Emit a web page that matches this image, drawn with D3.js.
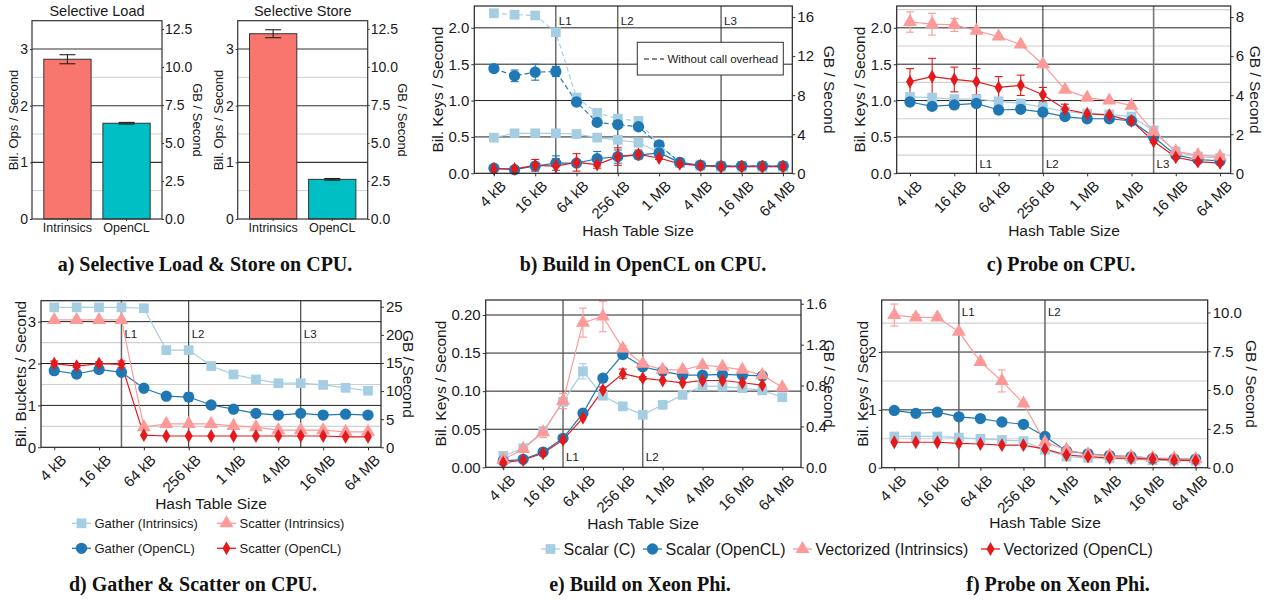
<!DOCTYPE html>
<meta charset="utf-8">
<title>SIMD hash table benchmarks</title>
<style>
body { margin: 0; background: #fff; }
svg { display: block; font-family: "Liberation Sans", Arial, sans-serif; }
.cap { font-family: "Liberation Serif", "Times New Roman", serif; font-weight: bold; font-size: 20px; }
</style>
<svg width="1268" height="601"></svg>
<script src="https://cdn.jsdelivr.net/npm/d3@7"></script>
<script>
'use strict';

// ---- data ----
const sizes = ["4 kB","8 kB","16 kB","32 kB","64 kB","128 kB","256 kB","512 kB",
               "1 MB","2 MB","4 MB","8 MB","16 MB","32 MB","64 MB"];
const sizeTickLabels = ["4 kB","16 kB","64 kB","256 kB","1 MB","4 MB","16 MB","64 MB"];

// a) selective load / store
const selCats = ["Intrinsics", "OpenCL"];
const selLoad = [2.82, 1.69];
const selLoadErr = [0.08, 0.015];
const selStore = [3.27, 0.70];
const selStoreErr = [0.07, 0.015];

// b) build in OpenCL on CPU
const bSquaresNoOvh = [2.20, 2.18, 2.17, 1.94, 1.04, 0.83, 0.75, 0.72, 0.39, 0.14, 0.11, 0.10, 0.10, 0.10, 0.10];
const bCirclesNoOvh = [1.44, 1.34, 1.39, 1.40, 0.98, 0.70, 0.67, 0.64, 0.39, 0.15, 0.11, 0.10, 0.10, 0.10, 0.10];
const bCirclesNoOvhErr = [0.01, 0.08, 0.11, 0.07, 0.02, 0.02, 0.02, 0.02, 0.02, 0, 0, 0, 0, 0, 0];
const bSquares = [0.49, 0.55, 0.55, 0.55, 0.54, 0.49, 0.46, 0.42, 0.29, 0.14, 0.105, 0.09, 0.09, 0.09, 0.09];
const bCircles = [0.07, 0.05, 0.10, 0.14, 0.14, 0.20, 0.23, 0.25, 0.28, 0.15, 0.11, 0.10, 0.10, 0.10, 0.10];
const bCirclesErr = [0.02, 0.03, 0.05, 0.10, 0.03, 0.10, 0.09, 0.05, 0.02, 0, 0, 0, 0, 0, 0];
const bDiamonds = [0.06, 0.06, 0.11, 0.10, 0.15, 0.12, 0.23, 0.26, 0.21, 0.13, 0.105, 0.09, 0.09, 0.09, 0.09];
const bDiamondsErr = [0.02, 0.03, 0.08, 0.10, 0.12, 0.05, 0.12, 0.06, 0.02, 0, 0, 0, 0, 0, 0];

// c) probe on CPU
const cSquares = [1.05, 1.04, 1.02, 1.02, 0.99, 0.96, 0.91, 0.85, 0.82, 0.81, 0.78, 0.59, 0.30, 0.23, 0.21];
const cCircles = [0.98, 0.92, 0.94, 0.96, 0.87, 0.88, 0.84, 0.78, 0.75, 0.75, 0.72, 0.50, 0.25, 0.19, 0.17];
const cCirclesErr = [0.05, 0.03, 0.04, 0.03, 0.05, 0.04, 0.03, 0.02, 0.02, 0.02, 0.02, 0.01, 0.01, 0.01, 0.01];
const cTriangles = [2.08, 2.05, 2.04, 1.96, 1.88, 1.77, 1.50, 1.15, 1.04, 1.00, 0.93, 0.57, 0.30, 0.25, 0.23];
const cTrianglesErr = [0.14, 0.15, 0.09, 0.03, 0, 0, 0, 0, 0, 0, 0, 0, 0, 0, 0];
const cDiamonds = [1.26, 1.33, 1.29, 1.26, 1.18, 1.21, 1.08, 0.88, 0.82, 0.80, 0.72, 0.44, 0.22, 0.16, 0.14];
const cDiamondsErr = [0.18, 0.25, 0.17, 0.18, 0.15, 0.14, 0.10, 0.07, 0.04, 0.02, 0.02, 0.02, 0.01, 0.01, 0.01];

// d) gather & scatter on CPU
const dGatherIntr = [3.34, 3.34, 3.34, 3.34, 3.32, 2.32, 2.32, 1.94, 1.74, 1.62, 1.53, 1.53, 1.49, 1.42, 1.35];
const dScatterIntr = [3.04, 3.04, 3.04, 3.04, 0.48, 0.56, 0.56, 0.56, 0.51, 0.48, 0.41, 0.41, 0.41, 0.37, 0.37];
const dGatherOcl = [1.83, 1.75, 1.86, 1.79, 1.41, 1.22, 1.20, 1.01, 0.91, 0.81, 0.77, 0.81, 0.77, 0.79, 0.77];
const dGatherOclErr = [0.08, 0.09, 0.05, 0.05, 0.03, 0.07, 0.10, 0.06, 0.03, 0.02, 0.02, 0.02, 0.02, 0.02, 0.02];
const dScatterOcl = [2.00, 1.94, 2.00, 1.98, 0.29, 0.27, 0.27, 0.27, 0.27, 0.27, 0.27, 0.27, 0.27, 0.25, 0.25];
const dScatterOclErr = [0.06, 0.04, 0.04, 0.08, 0, 0, 0, 0, 0, 0, 0, 0, 0, 0, 0];

// e) build on Xeon Phi (OpenCL series stop at 32 MB)
const eScalarC = [0.015, 0.025, 0.047, 0.086, 0.126, 0.094, 0.080, 0.069, 0.082, 0.095, 0.107, 0.106, 0.104, 0.101, 0.092];
const eScalarCErr = [0, 0, 0.003, 0.005, 0.010, 0.003, 0, 0, 0, 0, 0, 0, 0, 0, 0];
const eScalarOcl = [0.0083, 0.0105, 0.020, 0.038, 0.071, 0.117, 0.148, 0.132, 0.126, 0.121, 0.121, 0.122, 0.121, 0.120];
const eScalarOclErr = [0, 0, 0, 0.002, 0.002, 0.005, 0.004, 0.002, 0, 0, 0, 0, 0, 0];
const eVecIntr = [0.010, 0.024, 0.046, 0.087, 0.190, 0.198, 0.156, 0.136, 0.128, 0.128, 0.134, 0.132, 0.128, 0.121, 0.105];
const eVecIntrErr = [0.003, 0.003, 0.007, 0.010, 0.019, 0.020, 0.004, 0.003, 0, 0, 0, 0, 0, 0, 0];
const eVecOcl = [0.006, 0.0096, 0.0184, 0.036, 0.065, 0.1015, 0.123, 0.117, 0.114, 0.111, 0.114, 0.114, 0.111, 0.108];
const eVecOclErr = [0, 0, 0, 0, 0, 0.004, 0.006, 0.002, 0, 0, 0, 0, 0, 0];

// f) probe on Xeon Phi
const fScalarC = [0.54, 0.54, 0.54, 0.52, 0.50, 0.48, 0.46, 0.31, 0.19, 0.17, 0.16, 0.15, 0.13, 0.12, 0.12];
const fScalarOcl = [0.99, 0.94, 0.96, 0.88, 0.85, 0.79, 0.75, 0.54, 0.29, 0.24, 0.21, 0.19, 0.16, 0.15, 0.15];
const fVecIntr = [2.64, 2.60, 2.60, 2.35, 1.83, 1.50, 1.11, 0.44, 0.31, 0.23, 0.21, 0.19, 0.17, 0.16, 0.15];
const fVecIntrErr = [0.19, 0.05, 0.04, 0.02, 0.02, 0.19, 0.03, 0, 0, 0, 0, 0, 0, 0, 0];
const fVecOcl = [0.44, 0.44, 0.44, 0.42, 0.41, 0.39, 0.39, 0.32, 0.22, 0.19, 0.17, 0.16, 0.15, 0.13, 0.12];

const legendD = ["Gather (Intrinsics)", "Scatter (Intrinsics)", "Gather (OpenCL)", "Scatter (OpenCL)"];
const legendE = ["Scalar (C)", "Scalar (OpenCL)", "Vectorized (Intrinsics)", "Vectorized (OpenCL)"];

// ---- drawing ----
const svg = d3.select("svg");
svg.append("rect").attr("width", 1268).attr("height", 601).attr("fill", "#fff");

const col = {sq: "#a6cee3", ci: "#1f78b4", tr: "#fb9a99", di: "#e31a1c"};
const sym = {sq: d3.symbolSquare, ci: d3.symbolCircle, tr: d3.symbolTriangle, di: d3.symbolDiamond};
const symSize = {sq: 95, ci: 100, tr: 85, di: 55};
const TXT = "#1a1a1a";

function styleAxis(ax, fs) {
  ax.select(".domain").remove();
  ax.selectAll("line").attr("stroke", "#333");
  ax.selectAll("text").attr("fill", TXT).attr("font-size", fs + "px")
    .attr("font-family", "'Liberation Sans', Arial, sans-serif");
}

function vTitle(x, y, text, rot, fs) {
  svg.append("text").attr("transform", `translate(${x},${y}) rotate(${rot})`)
    .attr("text-anchor", "middle").attr("dominant-baseline", "central")
    .attr("font-size", fs + "px").attr("fill", TXT).text(text);
}

function barPanel(p) {
  const g = svg.append("g");
  const x = d3.scaleBand().domain(selCats).range([p.x0, p.x1]).paddingInner(0.2).paddingOuter(0.2);
  const y = d3.scaleLinear().domain([0, 3.5]).range([p.y1, p.y0]);
  const y2 = d3.scaleLinear().domain([0, 3.5 * 3.725]).range([p.y1, p.y0]);
  g.selectAll(null).data([0.5, 1.5, 2.5]).join("line")
    .attr("x1", p.x0).attr("x2", p.x1).attr("y1", d => y(d)).attr("y2", d => y(d))
    .attr("stroke", "#d0d0d0");
  g.selectAll(null).data([1, 2, 3]).join("line")
    .attr("x1", p.x0).attr("x2", p.x1).attr("y1", d => y(d)).attr("y2", d => y(d))
    .attr("stroke", "#333").attr("stroke-width", 1.1);
  g.selectAll(null).data(p.vals).join("rect")
    .attr("x", (d, i) => x(selCats[i])).attr("width", x.bandwidth())
    .attr("y", d => y(d)).attr("height", d => y(0) - y(d))
    .attr("fill", (d, i) => i === 0 ? "#f8766d" : "#00bfc4")
    .attr("stroke", "#333").attr("stroke-width", 1);
  p.vals.forEach((v, i) => {
    const cx = x(selCats[i]) + x.bandwidth() / 2, e = p.err[i];
    const eb = g.append("g").attr("stroke", "#222").attr("stroke-width", 1.1);
    eb.append("line").attr("x1", cx).attr("x2", cx).attr("y1", y(v - e)).attr("y2", y(v + e));
    [v - e, v + e].forEach(t => eb.append("line").attr("x1", cx - 8).attr("x2", cx + 8)
      .attr("y1", y(t)).attr("y2", y(t)));
  });
  g.append("rect").attr("x", p.x0).attr("y", p.y0).attr("width", p.x1 - p.x0)
    .attr("height", p.y1 - p.y0).attr("fill", "none").attr("stroke", "#333").attr("stroke-width", 1.2);
  const axL = g.append("g").attr("transform", `translate(${p.x0},0)`)
    .call(d3.axisLeft(y).tickValues([0, 1, 2, 3]).tickFormat(d3.format("d")).tickSize(2).tickPadding(2));
  styleAxis(axL, 14);
  const axR = g.append("g").attr("transform", `translate(${p.x1},0)`)
    .call(d3.axisRight(y2).tickValues([0, 2.5, 5, 7.5, 10, 12.5]).tickFormat(d3.format(".1f")).tickSize(2).tickPadding(1));
  styleAxis(axR, 14);
  const axB = g.append("g").attr("transform", `translate(0,${p.y1})`)
    .call(d3.axisBottom(x).tickSize(2).tickPadding(2));
  styleAxis(axB, 12.5);
  g.append("text").attr("x", (p.x0 + p.x1) / 2).attr("y", 16).attr("text-anchor", "middle")
    .attr("font-size", "14.5px").attr("fill", TXT).text(p.title);
  vTitle(p.x0 - 19, 120, "Bil. Ops / Second", -90, 13);
  vTitle(p.x1 + 35, 120, "GB / Second", 90, 13);
}

function linePanel(p) {
  const g = svg.append("g");
  const n = sizes.length;
  const x = d3.scaleLinear().domain([-p.pad[0], n - 1 + p.pad[1]]).range([p.x0, p.x1]);
  const y = d3.scaleLinear().domain([0, p.yMax]).range([p.y1, p.y0]);
  const y2 = d3.scaleLinear().domain([0, p.yMax * p.factor]).range([p.y1, p.y0]);

  g.selectAll(null).data(p.minor || []).join("line")
    .attr("x1", p.x0).attr("x2", p.x1).attr("y1", d => y(d)).attr("y2", d => y(d))
    .attr("stroke", "#d0d0d0").attr("stroke-width", 1.1);
  g.selectAll(null).data(p.yTicks.filter(d => d > 0)).join("line")
    .attr("x1", p.x0).attr("x2", p.x1).attr("y1", d => y(d)).attr("y2", d => y(d))
    .attr("stroke", "#222").attr("stroke-width", 1);
  p.caches.forEach(c => {
    g.append("line").attr("x1", x(c.i)).attr("x2", x(c.i)).attr("y1", p.y0).attr("y2", p.y1)
      .attr("stroke", c.c || "#222").attr("stroke-width", c.w || 1);
    g.append("text").attr("x", x(c.i) + 3).attr("y", p.labelY).attr("font-size", "11.5px")
      .attr("fill", TXT).text(c.t);
  });

  const line = d3.line().x(d => x(d[0])).y(d => y(d[1]));
  const pts = s => s.v.map((v, i) => [i, v]);
  p.series.forEach(s => {
    g.append("path").datum(pts(s)).attr("d", line).attr("fill", "none")
      .attr("stroke", col[s.k]).attr("stroke-width", 1.2)
      .attr("stroke-dasharray", s.dash ? "5,3" : null);
  });
  p.series.forEach(s => {
    if (!s.e) return;
    s.v.forEach((v, i) => {
      const e = s.e[i];
      if (!e) return;
      const cx = x(i);
      const eb = g.append("g").attr("stroke", col[s.k]).attr("stroke-width", 1.1);
      eb.append("line").attr("x1", cx).attr("x2", cx).attr("y1", y(v - e)).attr("y2", y(v + e));
      [v - e, v + e].forEach(t => eb.append("line").attr("x1", cx - 4).attr("x2", cx + 4)
        .attr("y1", y(t)).attr("y2", y(t)));
    });
  });
  p.series.forEach(s => {
    g.selectAll(null).data(pts(s)).join("path")
      .attr("transform", d => `translate(${x(d[0])},${y(d[1])})`)
      .attr("d", d3.symbol(sym[s.k], symSize[s.k]))
      .attr("fill", col[s.k]);
  });

  g.append("rect").attr("x", p.x0).attr("y", p.y0).attr("width", p.x1 - p.x0)
    .attr("height", p.y1 - p.y0).attr("fill", "none").attr("stroke", "#222").attr("stroke-width", 1.2);

  const axL = g.append("g").attr("transform", `translate(${p.x0},0)`)
    .call(d3.axisLeft(y).tickValues(p.yTicks).tickFormat(d3.format(p.yFmt)).tickSize(3).tickPadding(2));
  styleAxis(axL, 15);
  const axR = g.append("g").attr("transform", `translate(${p.x1},0)`)
    .call(d3.axisRight(y2).tickValues(p.rTicks).tickFormat(d3.format(p.rFmt)).tickSize(3).tickPadding(2));
  styleAxis(axR, 15);
  const axB = g.append("g").attr("transform", `translate(0,${p.y1})`)
    .call(d3.axisBottom(x).tickValues(sizeTickLabels.map(l => sizes.indexOf(l)))
      .tickFormat(i => sizes[i]).tickSize(3));
  styleAxis(axB, 15);
  axB.selectAll("text").attr("text-anchor", "end").attr("dy", null).attr("y", null)
    .attr("transform", "translate(5,6) rotate(-45)").attr("dy", "0.71em");

  svg.append("text").attr("x", p.xt[0]).attr("y", p.xt[1]).attr("text-anchor", "middle")
    .attr("dominant-baseline", "central").attr("font-size", "15.5px").attr("fill", TXT)
    .text("Hash Table Size");
  vTitle(p.lt, (p.y0 + p.y1) / 2, p.yLabel, -90, 15.5);
  vTitle(p.rt, (p.y0 + p.y1) / 2, "GB / Second", 90, 15.5);
  return {x, y};
}

// a
barPanel({x0: 32, x1: 162, y0: 20.7, y1: 219, vals: selLoad, err: selLoadErr, title: "Selective Load"});
barPanel({x0: 237.7, x1: 367.7, y0: 20.7, y1: 219, vals: selStore, err: selStoreErr, title: "Selective Store"});

// b
linePanel({
  x0: 474.3, x1: 792.3, y0: 6, y1: 173.3, pad: [0.95, 0.45], yMax: 2.3, factor: 7.45,
  yTicks: [0, 0.5, 1, 1.5, 2], yFmt: ".1f", rTicks: [0, 4, 8, 12, 16], rFmt: "d",
  caches: [{i: 3, t: "L1"}, {i: 6, t: "L2"}, {i: 11, t: "L3"}], labelY: 25,
  xt: [638, 230], lt: 437, rt: 829, yLabel: "Bil. Keys / Second",
  series: [
    {k: "sq", v: bSquaresNoOvh, dash: true},
    {k: "ci", v: bCirclesNoOvh, e: bCirclesNoOvhErr, dash: true},
    {k: "sq", v: bSquares},
    {k: "ci", v: bCircles, e: bCirclesErr},
    {k: "di", v: bDiamonds, e: bDiamondsErr}
  ]
});
// legend box in b
const lb = svg.append("g");
lb.append("rect").attr("x", 637.3).attr("y", 42.3).attr("width", 146).attr("height", 32.7)
  .attr("fill", "#fff").attr("stroke", "#333").attr("stroke-width", 1);
lb.append("line").attr("x1", 644).attr("x2", 664).attr("y1", 59).attr("y2", 59)
  .attr("stroke", "#111").attr("stroke-width", 1.2).attr("stroke-dasharray", "5,3");
lb.append("text").attr("x", 667.5).attr("y", 59).attr("dominant-baseline", "central")
  .attr("font-size", "11.5px").attr("fill", TXT).text("Without call overhead");

// c
linePanel({
  x0: 896.7, x1: 1230.7, y0: 6, y1: 173.3, pad: [0.6, 0.48], yMax: 2.3, factor: 3.725,
  yTicks: [0, 0.5, 1, 1.5, 2], yFmt: ".1f", rTicks: [0, 2, 4, 6, 8], rFmt: "d",
  minor: [0.25, 0.75, 1.25, 1.75, 2.25],
  caches: [{i: 3, t: "L1"}, {i: 6, t: "L2"}, {i: 11, t: "L3", c: "#777", w: 1.6}], labelY: 168,
  xt: [1064, 230], lt: 859, rt: 1255, yLabel: "Bil. Keys / Second",
  series: [
    {k: "sq", v: cSquares},
    {k: "ci", v: cCircles, e: cCirclesErr},
    {k: "tr", v: cTriangles, e: cTrianglesErr},
    {k: "di", v: cDiamonds, e: cDiamondsErr}
  ]
});

// d
linePanel({
  x0: 41, x1: 381, y0: 300.7, y1: 447.3, pad: [0.59, 0.58], yMax: 3.5, factor: 7.45,
  yTicks: [0, 1, 2, 3], yFmt: "d", rTicks: [0, 5, 10, 15, 20, 25], rFmt: "d",
  minor: [0.5, 1.5, 2.5],
  caches: [{i: 3, t: "L1", c: "#666", w: 1.5}, {i: 6, t: "L2"}, {i: 11, t: "L3"}], labelY: 338,
  xt: [211, 503], lt: 20, rt: 408, yLabel: "Bil. Buckets / Second",
  series: [
    {k: "sq", v: dGatherIntr},
    {k: "ci", v: dGatherOcl, e: dGatherOclErr},
    {k: "tr", v: dScatterIntr},
    {k: "di", v: dScatterOcl, e: dScatterOclErr}
  ]
});

// e
linePanel({
  x0: 485.7, x1: 801, y0: 300, y1: 467.3, pad: [0.88, 0.94], yMax: 0.2197, factor: 7.45,
  yTicks: [0, 0.05, 0.1, 0.15, 0.2], yFmt: ".2f", rTicks: [0, 0.4, 0.8, 1.2, 1.6], rFmt: ".1f",
  caches: [{i: 3, t: "L1", c: "#555", w: 1.3}, {i: 7, t: "L2", c: "#555", w: 1.3}], labelY: 461,
  xt: [643, 523], lt: 440, rt: 829, yLabel: "Bil. Keys / Second",
  series: [
    {k: "sq", v: eScalarC, e: eScalarCErr},
    {k: "ci", v: eScalarOcl, e: eScalarOclErr},
    {k: "tr", v: eVecIntr, e: eVecIntrErr},
    {k: "di", v: eVecOcl, e: eVecOclErr}
  ]
});

// f
linePanel({
  x0: 881.7, x1: 1207.7, y0: 300, y1: 467.7, pad: [0.585, 0.56], yMax: 2.9, factor: 3.725,
  yTicks: [0, 1, 2], yFmt: "d", rTicks: [0, 2.5, 5, 7.5, 10], rFmt: ".1f",
  minor: [0.5, 1.5, 2.5],
  caches: [{i: 3, t: "L1", c: "#666", w: 1.5}, {i: 7, t: "L2", c: "#666", w: 1.5}], labelY: 316,
  xt: [1045, 522], lt: 862, rt: 1251, yLabel: "Bil. Keys / Second",
  series: [
    {k: "sq", v: fScalarC},
    {k: "ci", v: fScalarOcl},
    {k: "tr", v: fVecIntr, e: fVecIntrErr},
    {k: "di", v: fVecOcl}
  ]
});

// legends
function legendKey(x, y, k) {
  const g = svg.append("g");
  g.append("line").attr("x1", x).attr("x2", x + 19).attr("y1", y).attr("y2", y)
    .attr("stroke", col[k]).attr("stroke-width", 1.3);
  g.append("path").attr("transform", `translate(${x + 9.5},${y})`)
    .attr("d", d3.symbol(sym[k], symSize[k])).attr("fill", col[k]);
}
const dKeys = ["sq", "tr", "ci", "di"];
const dPos = [[72, 523.3], [217, 523.3], [72, 548.3], [217, 548.3]];
legendD.forEach((t, i) => {
  legendKey(dPos[i][0], dPos[i][1], dKeys[i]);
  svg.append("text").attr("x", dPos[i][0] + 22.5).attr("y", dPos[i][1]).attr("dominant-baseline", "central")
    .attr("font-size", "13px").attr("fill", TXT).text(t);
});
const eKeys = ["sq", "ci", "tr", "di"];
const eX = [541, 643, 793, 981];
legendE.forEach((t, i) => {
  legendKey(eX[i], 549, eKeys[i]);
  svg.append("text").attr("x", eX[i] + 22.5).attr("y", 549).attr("dominant-baseline", "central")
    .attr("font-size", "16px").attr("fill", TXT).text(t);
});

// captions
const captions = [
  ["a) Selective Load & Store on CPU.", 205, 271],
  ["b) Build in OpenCL on CPU.", 643, 271],
  ["c) Probe on CPU.", 1061, 271],
  ["d) Gather & Scatter on CPU.", 193, 591],
  ["e) Build on Xeon Phi.", 640, 591],
  ["f) Probe on Xeon Phi.", 1058, 591]
];
svg.selectAll(".cap").data(captions).join("text").attr("class", "cap")
  .attr("x", d => d[1]).attr("y", d => d[2]).attr("text-anchor", "middle")
  .attr("fill", "#111").text(d => d[0]);
</script>
